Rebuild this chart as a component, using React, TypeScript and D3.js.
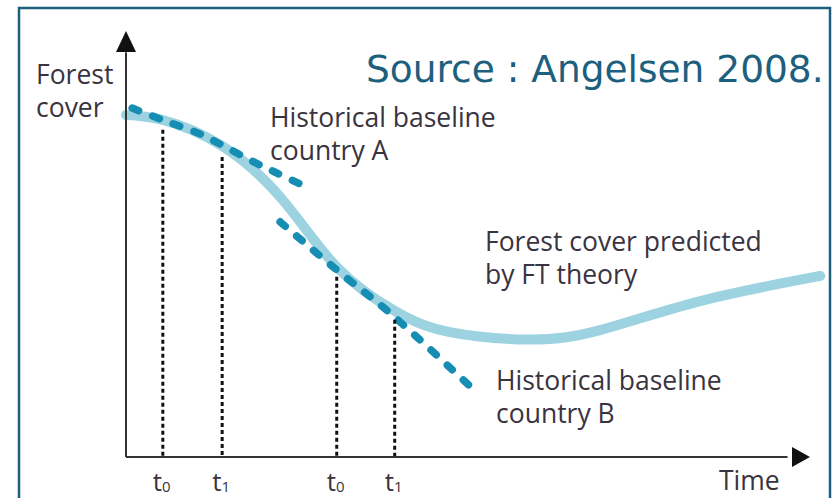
import React, { useEffect, useRef } from 'react';
import * as d3 from 'd3';

// Forest transition curve (time, forest cover in % of axis height)
const ftTime = [0, 5.4, 14.1, 23.0, 30.9, 39.4, 47.5, 59.2, 69.5, 84.2, 101.8];
const ftCover = [80.3, 79.1, 73.0, 60.3, 44.6, 34.3, 29.3, 27.6, 29.8, 36.6, 42.5];

// Historical baseline, country A
const baseATime = [0.9, 5.4, 10.9, 14.1, 18.2, 21.8, 25.5];
const baseACover = [81.9, 79.1, 75.8, 73.2, 69.7, 66.9, 64.1];

// Historical baseline, country B
const baseBTime = [22.6, 30.9, 38.7, 50.7];
const baseBCover = [55.2, 43.9, 33.8, 16.2];

// reference periods t0 / t1 for A and B
const periodTime = [5.4, 14.1, 30.9, 39.4];
const periodTop = [76.8, 70.4, 42.3, 32.2];
const periodLabels = ['0', '1', '0', '1'];

const App: React.FC = () => {
  const chartRef = useRef<SVGSVGElement | null>(null);

  useEffect(() => {
    if (!chartRef.current) return;
    const svg = d3.select(chartRef.current);
    svg.selectAll('*').remove();

    const W = 838;
    const H = 498;
    const origin = { x: 126, y: 457 };

    const x = d3.scaleLinear().domain([0, 100]).range([origin.x, 808]);
    const y = d3.scaleLinear().domain([0, 100]).range([origin.y, 31]);

    svg.append('rect').attr('width', W).attr('height', H).attr('fill', '#fff');

    // frame
    svg.append('rect')
      .attr('x', 19)
      .attr('y', 8)
      .attr('width', 811)
      .attr('height', 520)
      .attr('fill', 'none')
      .attr('stroke', '#1d5f7e')
      .attr('stroke-width', 2.5);

    const labelFont = '"Open Sans", sans-serif';
    const labelColor = '#3a3340';

    const toPts = (ts: number[], cs: number[]) => ts.map((t, i) => [t, cs[i]] as [number, number]);

    // main FT curve
    const smooth = d3.line<[number, number]>()
      .x((d) => x(d[0]))
      .y((d) => y(d[1]))
      .curve(d3.curveNatural);

    svg.append('path')
      .attr('d', smooth(toPts(ftTime, ftCover)))
      .attr('fill', 'none')
      .attr('stroke', '#9dd3e1')
      .attr('stroke-width', 10)
      .attr('stroke-linecap', 'round');

    // historical baselines
    const line = d3.line<[number, number]>()
      .x((d) => x(d[0]))
      .y((d) => y(d[1]))
      .curve(d3.curveCatmullRom.alpha(0.5));

    [toPts(baseATime, baseACover), toPts(baseBTime, baseBCover)].forEach((pts) => {
      svg.append('path')
        .attr('d', line(pts))
        .attr('fill', 'none')
        .attr('stroke', '#168db2')
        .attr('stroke-width', 7.5)
        .attr('stroke-linecap', 'round')
        .attr('stroke-dasharray', '7 15');
    });

    // dotted verticals
    periodTime.forEach((t, i) => {
      svg.append('line')
        .attr('x1', x(t))
        .attr('x2', x(t))
        .attr('y1', y(periodTop[i]))
        .attr('y2', y(0))
        .attr('stroke', '#111')
        .attr('stroke-width', 3)
        .attr('stroke-dasharray', '4 3');
    });

    // axes
    svg.append('line')
      .attr('x1', x(0)).attr('y1', y(0))
      .attr('x2', x(0)).attr('y2', y(95))
      .attr('stroke', '#333').attr('stroke-width', 2);
    svg.append('line')
      .attr('x1', x(0)).attr('y1', y(0))
      .attr('x2', x(97)).attr('y2', y(0))
      .attr('stroke', '#333').attr('stroke-width', 2);

    // arrowheads
    const ty = y(100);
    svg.append('path')
      .attr('d', `M${x(0)},${ty} L${x(0) - 10},${ty + 21} L${x(0) + 10},${ty + 21} Z`)
      .attr('fill', '#111');
    const tx = x(100) + 2;
    svg.append('path')
      .attr('d', `M${tx},${y(0)} L${tx - 18},${y(0) - 10} L${tx - 18},${y(0) + 10} Z`)
      .attr('fill', '#111');

    // period tick labels
    periodTime.forEach((t, i) => {
      const txt = svg.append('text')
        .attr('x', x(t) - 10)
        .attr('y', 491)
        .style('font-family', labelFont)
        .style('font-size', '26px')
        .style('fill', labelColor);
      txt.append('tspan').text('t');
      txt.append('tspan')
        .attr('dy', 1)
        .style('font-size', '15px')
        .text(periodLabels[i]);
    });

    const addLabel = (lines: string[], lx: number, ly: number, size: number, lh: number) => {
      lines.forEach((s, i) => {
        svg.append('text')
          .attr('x', lx)
          .attr('y', ly + i * lh)
          .text(s)
          .style('font-family', labelFont)
          .style('font-size', `${size}px`)
          .style('fill', labelColor);
      });
    };

    addLabel(['Forest', 'cover'], 36, 84, 26.5, 33);
    addLabel(['Historical baseline', 'country A'], 270, 127, 26.5, 33);
    addLabel(['Forest cover predicted', 'by FT theory'], 485, 251, 26.5, 33);
    addLabel(['Historical baseline', 'country B'], 496, 390, 26.5, 33);
    addLabel(['Time'], 719, 490, 26.5, 0);

    // source
    svg.append('text')
      .attr('x', 366)
      .attr('y', 82)
      .text('Source : Angelsen 2008.')
      .style('font-family', '"DejaVu Sans", Verdana, sans-serif')
      .style('font-size', '37.5px')
      .style('fill', '#1d5f7e');
  }, []);

  return (
    <svg
      ref={chartRef}
      width={838}
      height={498}
      style={{ position: 'absolute', left: 0, top: 0 }}
    ></svg>
  );
};

export default App;
